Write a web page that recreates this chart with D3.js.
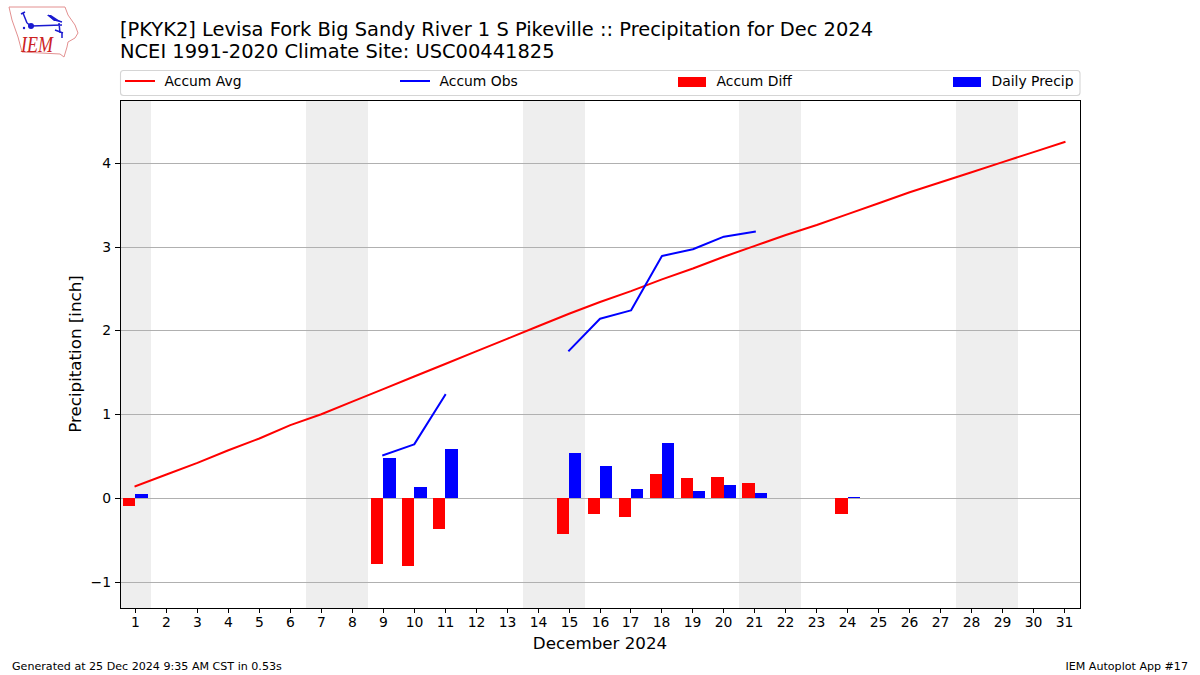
<!DOCTYPE html>
<html><head><meta charset="utf-8">
<script src="https://cdn.jsdelivr.net/npm/d3@7"></script>
<style>html,body{margin:0;padding:0;background:#fff}svg{display:block}text{font-family:"DejaVu Sans",sans-serif;fill:#000}</style>
</head><body><svg id="c" width="1200" height="675"></svg>
<script>
const days = d3.range(1, 32);
const weekendSpans = [[0.5,1.5],[6.5,8.5],[13.5,15.5],[20.5,22.5],[27.5,29.5]];
const accumAvg = [0.14,0.28,0.42,0.57,0.71,0.87,1.00,1.15,1.30,1.45,1.60,1.75,1.90,2.05,2.20,2.34,2.47,2.61,2.74,2.88,3.01,3.14,3.26,3.39,3.52,3.65,3.77,3.89,4.01,4.13,4.25];
const accumObs = [null,null,null,null,null,null,null,null,0.51,0.64,1.23,null,null,null,1.76,2.14,2.24,2.89,2.97,3.12,3.18,null,null,null,null,null,null,null,null,null,null];
const accumDiff = [-0.09,null,null,null,null,null,null,null,-0.79,-0.81,-0.37,null,null,null,-0.43,-0.19,-0.23,0.29,0.24,0.25,0.18,null,null,-0.19,null,null,null,null,null,null,null];
const dailyPrecip = [0.05,null,null,null,null,null,null,null,0.48,0.13,0.59,null,null,null,0.54,0.38,0.11,0.66,0.08,0.15,0.06,null,null,0.01,null,null,null,null,null,null,null];
const yTicks = [-1,0,1,2,3,4];
const legendItems = [
 {label:"Accum Avg",kind:"line",color:"#ff0000",x:126},
 {label:"Accum Obs",kind:"line",color:"#0000ff",x:401},
 {label:"Accum Diff",kind:"bar",color:"#ff0000",x:678},
 {label:"Daily Precip",kind:"bar",color:"#0000ff",x:953}];
const title1 = "[PKYK2] Levisa Fork Big Sandy River 1 S Pikeville :: Precipitation for Dec 2024";
const title2 = "NCEI 1991-2020 Climate Site: USC00441825";

const L=120,R=1080,T=100,B=608;
const svg=d3.select("#c");
const x=d3.scaleLinear().domain([0.5,31.5]).range([L,R]);
const y=d3.scaleLinear().domain([-1.3135,4.752]).range([B,T]);
const barW=0.4;
const rx=v=>Math.round(x(v)), ry=v=>Math.round(y(v));

svg.append("g").selectAll("rect").data(weekendSpans).join("rect")
 .attr("x",d=>rx(d[0])).attr("width",d=>rx(d[1])-rx(d[0])).attr("y",T).attr("height",B-T).attr("fill","#eeeeee");
svg.append("g").selectAll("line").data(yTicks).join("line")
 .attr("x1",L).attr("x2",R).attr("y1",d=>ry(d)+0.5).attr("y2",d=>ry(d)+0.5)
 .attr("stroke","#b0b0b0").attr("stroke-width",1);

const bars=(vals,color,off)=>svg.append("g").selectAll("rect")
 .data(days.filter((d,i)=>vals[i]!==null).map(d=>({d,v:vals[d-1]}))).join("rect")
 .attr("x",e=>rx(e.d+off)).attr("width",e=>rx(e.d+off+barW)-rx(e.d+off))
 .attr("y",e=>ry(Math.max(0,e.v))).attr("height",e=>Math.max(1,Math.abs(ry(e.v)-ry(0)))).attr("fill",color);
bars(accumDiff,"#ff0000",-barW);
bars(dailyPrecip,"#0000ff",0);

const line=d3.line().defined(d=>d.v!==null).x(d=>x(d.d)).y(d=>y(d.v));
const drawLine=(vals,color)=>svg.append("path").attr("d",line(days.map((d,i)=>({d,v:vals[i]}))))
 .attr("fill","none").attr("stroke",color).attr("stroke-width",2).attr("stroke-linecap","square").attr("stroke-linejoin","round");
drawLine(accumAvg,"#ff0000");
drawLine(accumObs,"#0000ff");

// axes
const xAxis=d3.axisBottom(x).tickValues(days).tickFormat(d3.format("d")).tickSize(5).tickPadding(4);
const gx=svg.append("g").attr("transform",`translate(0,${B})`).call(xAxis);
const yAxis=d3.axisLeft(y).tickValues(yTicks).tickFormat(d=>d<0?"\u2212"+Math.abs(d):d).tickSize(5).tickPadding(4);
const gy=svg.append("g").attr("transform",`translate(${L},0)`).call(yAxis);
[gx,gy].forEach(g=>{g.select(".domain").remove();g.selectAll("line").attr("stroke","#000").attr("stroke-width",1);
 g.selectAll("text").attr("font-size",13.9).attr("font-family",'"DejaVu Sans"').attr("fill","#000");});
gx.selectAll(".tick").attr("transform",d=>`translate(${Math.floor(x(d))+0.5},0)`);
gy.selectAll(".tick").attr("transform",d=>`translate(0,${ry(d)+0.5})`);
svg.append("rect").attr("x",L+.5).attr("y",T+.5).attr("width",R-L).attr("height",B-T).attr("fill","none").attr("stroke","#000").attr("stroke-width",1);

// titles
svg.append("text").attr("x",120).attr("y",36).attr("font-size",19.45).text(title1);
svg.append("text").attr("x",120).attr("y",58).attr("font-size",19.45).text(title2);
svg.append("text").attr("x",600).attr("y",649).attr("text-anchor","middle").attr("font-size",16.7).text("December 2024");
svg.append("text").attr("transform","translate(80.5,354) rotate(-90)").attr("text-anchor","middle").attr("font-size",16.7).text("Precipitation [inch]");
svg.append("text").attr("x",12).attr("y",670).attr("font-size",11.1).text("Generated at 25 Dec 2024 9:35 AM CST in 0.53s");
svg.append("text").attr("x",1188).attr("y",670).attr("text-anchor","end").attr("font-size",11.1).text("IEM Autoplot App #17");

// legend
svg.append("rect").attr("x",120.5).attr("y",70.5).attr("width",959.5).attr("height",25).attr("rx",3).attr("fill","#fff").attr("stroke","#d5d5d5").attr("stroke-width",1.1);
const lg=svg.append("g").selectAll("g").data(legendItems).join("g");
lg.each(function(d){const g=d3.select(this);
 if(d.kind==="line") g.append("line").attr("x1",d.x).attr("x2",d.x+28).attr("y1",81).attr("y2",81).attr("stroke",d.color).attr("stroke-width",2).attr("stroke-linecap","square");
 else g.append("rect").attr("x",d.x).attr("y",77).attr("width",28).attr("height",10).attr("fill",d.color);
 g.append("text").attr("x",d.x+38.5).attr("y",86).attr("font-size",13.9).text(d.label);
});

// logo
const logo=svg.append("g");
logo.append("path").attr("d","M9 7 L65 7 L68 15 L75 25 L78 33 L75 38 L68 42 L67 47 L64 57 L60 54 L22 52 L18 37 L12 20 Z")
 .attr("fill","#fff").attr("stroke","#e39090").attr("stroke-width",1);
logo.append("path").attr("d","M31 26 L62 25 M48 15 L55 20 L62 22 M59 23 L60 33 M55 30 L63 33 M62 33 L62 38 M27 23 L31 26 M27 23 L23 13 M21 14 L25 12")
 .attr("fill","none").attr("stroke","#1a1ad0").attr("stroke-width",1.5);
logo.append("circle").attr("cx",31).attr("cy",26).attr("r",3).attr("fill","#1a1ad0");
logo.append("path").attr("d","M47 15 L51 15 L60 21 L54 21 Z").attr("fill","#1a1ad0");
logo.append("circle").attr("cx",24).attr("cy",28).attr("r",1.2).attr("fill","#1a1ad0");
logo.append("text").attr("transform","translate(21,52) scale(1,1.3)").style("font-family","'Liberation Serif'").style("fill","#cc2222").attr("font-style","italic").attr("font-size",18).text("IEM");
</script></body></html>
